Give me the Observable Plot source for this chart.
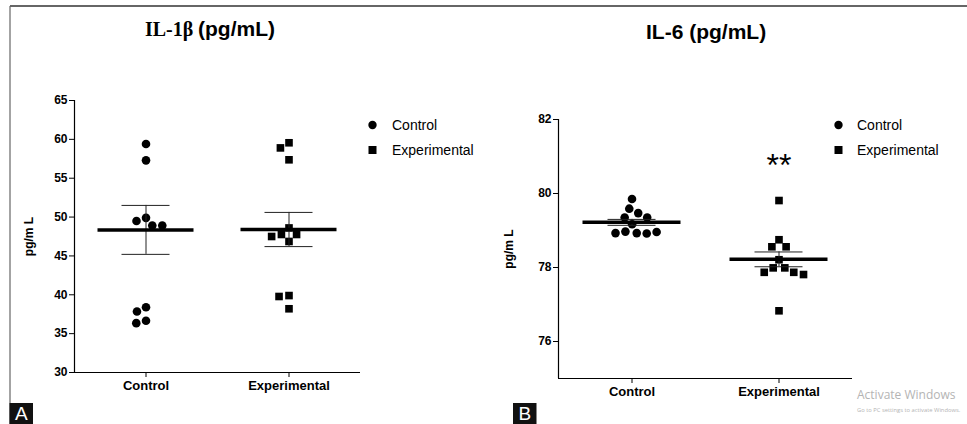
<!DOCTYPE html>
<html><head><meta charset="utf-8">
<script src="https://cdn.jsdelivr.net/npm/d3@7"></script>
<script src="https://cdn.jsdelivr.net/npm/@observablehq/plot@0.6"></script>
<style>
html,body{margin:0;padding:0;background:#fff;}
#page{position:relative;width:967px;height:424px;overflow:hidden;}
#page svg{position:absolute;top:0;}
</style></head><body><div id="page"></div>
<script>
const groups = ["Control", "Experimental"];

// Panel A: IL-1β (pg/mL)
const il1bControl = [59.4, 57.3, 49.9, 49.5, 48.9, 48.9, 38.4, 37.85, 36.65, 36.35];
const il1bExperimental = [59.56, 58.9, 57.37, 48.6, 47.76, 47.76, 47.5, 46.86, 39.9, 39.78, 38.2];
const il1bMean = [48.35, 48.4];
const il1bSem = [3.15, 2.2];
const il1bTicks = [30, 35, 40, 45, 50, 55, 60, 65];

// Panel B: IL-6 (pg/mL)
const il6Control = [79.85, 79.59, 79.47, 79.35, 79.35, 79.17, 78.97, 78.93, 78.92, 78.93, 78.96];
const il6Experimental = [79.81, 78.75, 78.56, 78.56, 78.21, 77.99, 77.99, 77.87, 77.87, 77.81, 76.83];
const il6Mean = [79.22, 78.22];
const il6Sem = [0.08, 0.2];
const il6Ticks = [76, 78, 80, 82];
const il6Significance = [{group: "Experimental", label: "**", value: 80.75}];

const SANS = "'Liberation Sans', Arial, Helvetica, sans-serif";
const page = document.getElementById("page");

// Overlay: frame, titles, legends, panel letters
const ov = d3.select(page).append("svg").attr("width", 967).attr("height", 424)
  .style("left", "0px").style("font-family", SANS);
ov.append("line").attr("x1", 10).attr("x2", 967).attr("y1", 6).attr("y2", 6).attr("stroke", "#333").attr("stroke-width", 1.6);
ov.append("line").attr("x1", 10).attr("x2", 10).attr("y1", 6).attr("y2", 424).attr("stroke", "#666").attr("stroke-width", 1.2);

const tA = ov.append("text").attr("y", 36).attr("font-weight", "bold");
tA.append("tspan").attr("x", 145).attr("font-family", "'Liberation Serif', 'Times New Roman', serif").attr("font-size", 20).text("IL-1β");
tA.append("tspan").attr("x", 198).attr("font-size", 21).text("(pg/mL)");
ov.append("text").attr("x", 646).attr("y", 39).attr("font-weight", "bold").attr("font-size", 21).text("IL-6 (pg/mL)");

function legend(x, tx) {
  ov.append("circle").attr("cx", x).attr("cy", 125).attr("r", 4.2).attr("fill", "#000");
  ov.append("rect").attr("x", x - 4).attr("y", 146).attr("width", 8).attr("height", 8).attr("fill", "#000");
  ov.append("text").attr("x", tx).attr("y", 130).attr("font-size", 14).text(groups[0]);
  ov.append("text").attr("x", tx).attr("y", 155).attr("font-size", 14).text(groups[1]);
}
legend(372.5, 392);
legend(838.5, 857);

function letter(x, s) {
  ov.append("rect").attr("x", x).attr("y", 403).attr("width", 23.5).attr("height", 21).attr("fill", "#111");
  ov.append("text").attr("x", x + 11.75).attr("y", 420).attr("text-anchor", "middle").attr("fill", "#fff").attr("font-size", 19).text(s);
}
letter(9.5, "A");
letter(513, "B");

ov.append("text").attr("x", 857).attr("y", 399).attr("font-size", 12).attr("fill", "#b4b4b4").attr("font-family", "'Open Sans', sans-serif").text("Activate Windows");
ov.append("text").attr("x", 857).attr("y", 412).attr("font-size", 5.8).attr("fill", "#b4b4b4").attr("font-family", "'Open Sans', sans-serif").text("Go to PC settings to activate Windows.");

function panel(cfg) {
  const points = [
    ...cfg.control.map(value => ({group: groups[0], value})),
    ...cfg.experimental.map(value => ({group: groups[1], value}))
  ];
  const summary = groups.map((group, i) => ({
    group, mean: cfg.mean[i], lo: cfg.mean[i] - cfg.sem[i], hi: cfg.mean[i] + cfg.sem[i]
  }));
  const [y0, y1] = cfg.domain;
  return Plot.plot({
    width: cfg.width, height: 424,
    marginLeft: cfg.marginLeft, marginRight: cfg.marginRight,
    marginTop: cfg.marginTop, marginBottom: cfg.marginBottom,
    style: {background: "transparent", fontFamily: SANS, fontSize: "12px", fontWeight: "bold", color: "#000", overflow: "visible"},
    fx: {domain: groups, padding: 0},
    x: {domain: [-1, 1], axis: null},
    y: {domain: cfg.domain},
    symbol: {domain: groups, range: ["circle", "square"]},
    marks: [
      Plot.ruleY([y0], {stroke: "#000", strokeWidth: 1.2}),
      Plot.ruleX([groups[0]], {fx: d => d, x: () => -1, y1: () => y0, y2: () => y1, stroke: "#000", strokeWidth: 1.2}),
      Plot.axisY({ticks: cfg.ticks, tickFormat: d => String(d), tickSize: 5, tickPadding: 2, fontSize: 12, fontWeight: "bold",
        label: "pg/m L", labelAnchor: "center", labelArrow: "none", labelOffset: cfg.labelOffset}),
      Plot.axisFx({anchor: "bottom", tickSize: 5, tickPadding: 3, fontSize: 13, fontWeight: "bold", label: null}),
      Plot.dot(points, Plot.dodgeX({anchor: "middle", padding: 1.4},
        {fx: "group", y: "value", r: 4.3, symbol: "group", fill: "#000", stroke: "none"})),
      Plot.ruleX(summary, {fx: "group", x: () => 0, y1: "lo", y2: "hi", stroke: "#222", strokeWidth: 1}),
      Plot.tickY(summary, {fx: "group", y: "hi", inset: cfg.capInset, stroke: "#222", strokeWidth: 1}),
      Plot.tickY(summary, {fx: "group", y: "lo", inset: cfg.capInset, stroke: "#222", strokeWidth: 1}),
      Plot.tickY(summary, {fx: "group", y: "mean", inset: cfg.meanInset, stroke: "#000", strokeWidth: 3.5}),
      ...(cfg.extra || [])
    ]
  });
}

const a = panel({
  control: il1bControl, experimental: il1bExperimental, mean: il1bMean, sem: il1bSem,
  ticks: il1bTicks, domain: [30, 65], width: 490,
  marginLeft: 73, marginRight: 130, marginTop: 100, marginBottom: 52,
  labelOffset: 50, capInset: 47.5, meanInset: 23.5
});
a.style.left = "0px";
page.appendChild(a);

const b = panel({
  control: il6Control, experimental: il6Experimental, mean: il6Mean, sem: il6Sem,
  ticks: il6Ticks, domain: [75, 82], width: 477,
  marginLeft: 67, marginRight: 115, marginTop: 119, marginBottom: 46,
  labelOffset: 54, capInset: 49.5, meanInset: 24.5,
  extra: [Plot.text(il6Significance, {fx: "group", x: () => 0, y: "value", text: "label", fontSize: 32, fontWeight: "normal"})]
});
b.style.left = "490px";
page.appendChild(b);
</script></body></html>
